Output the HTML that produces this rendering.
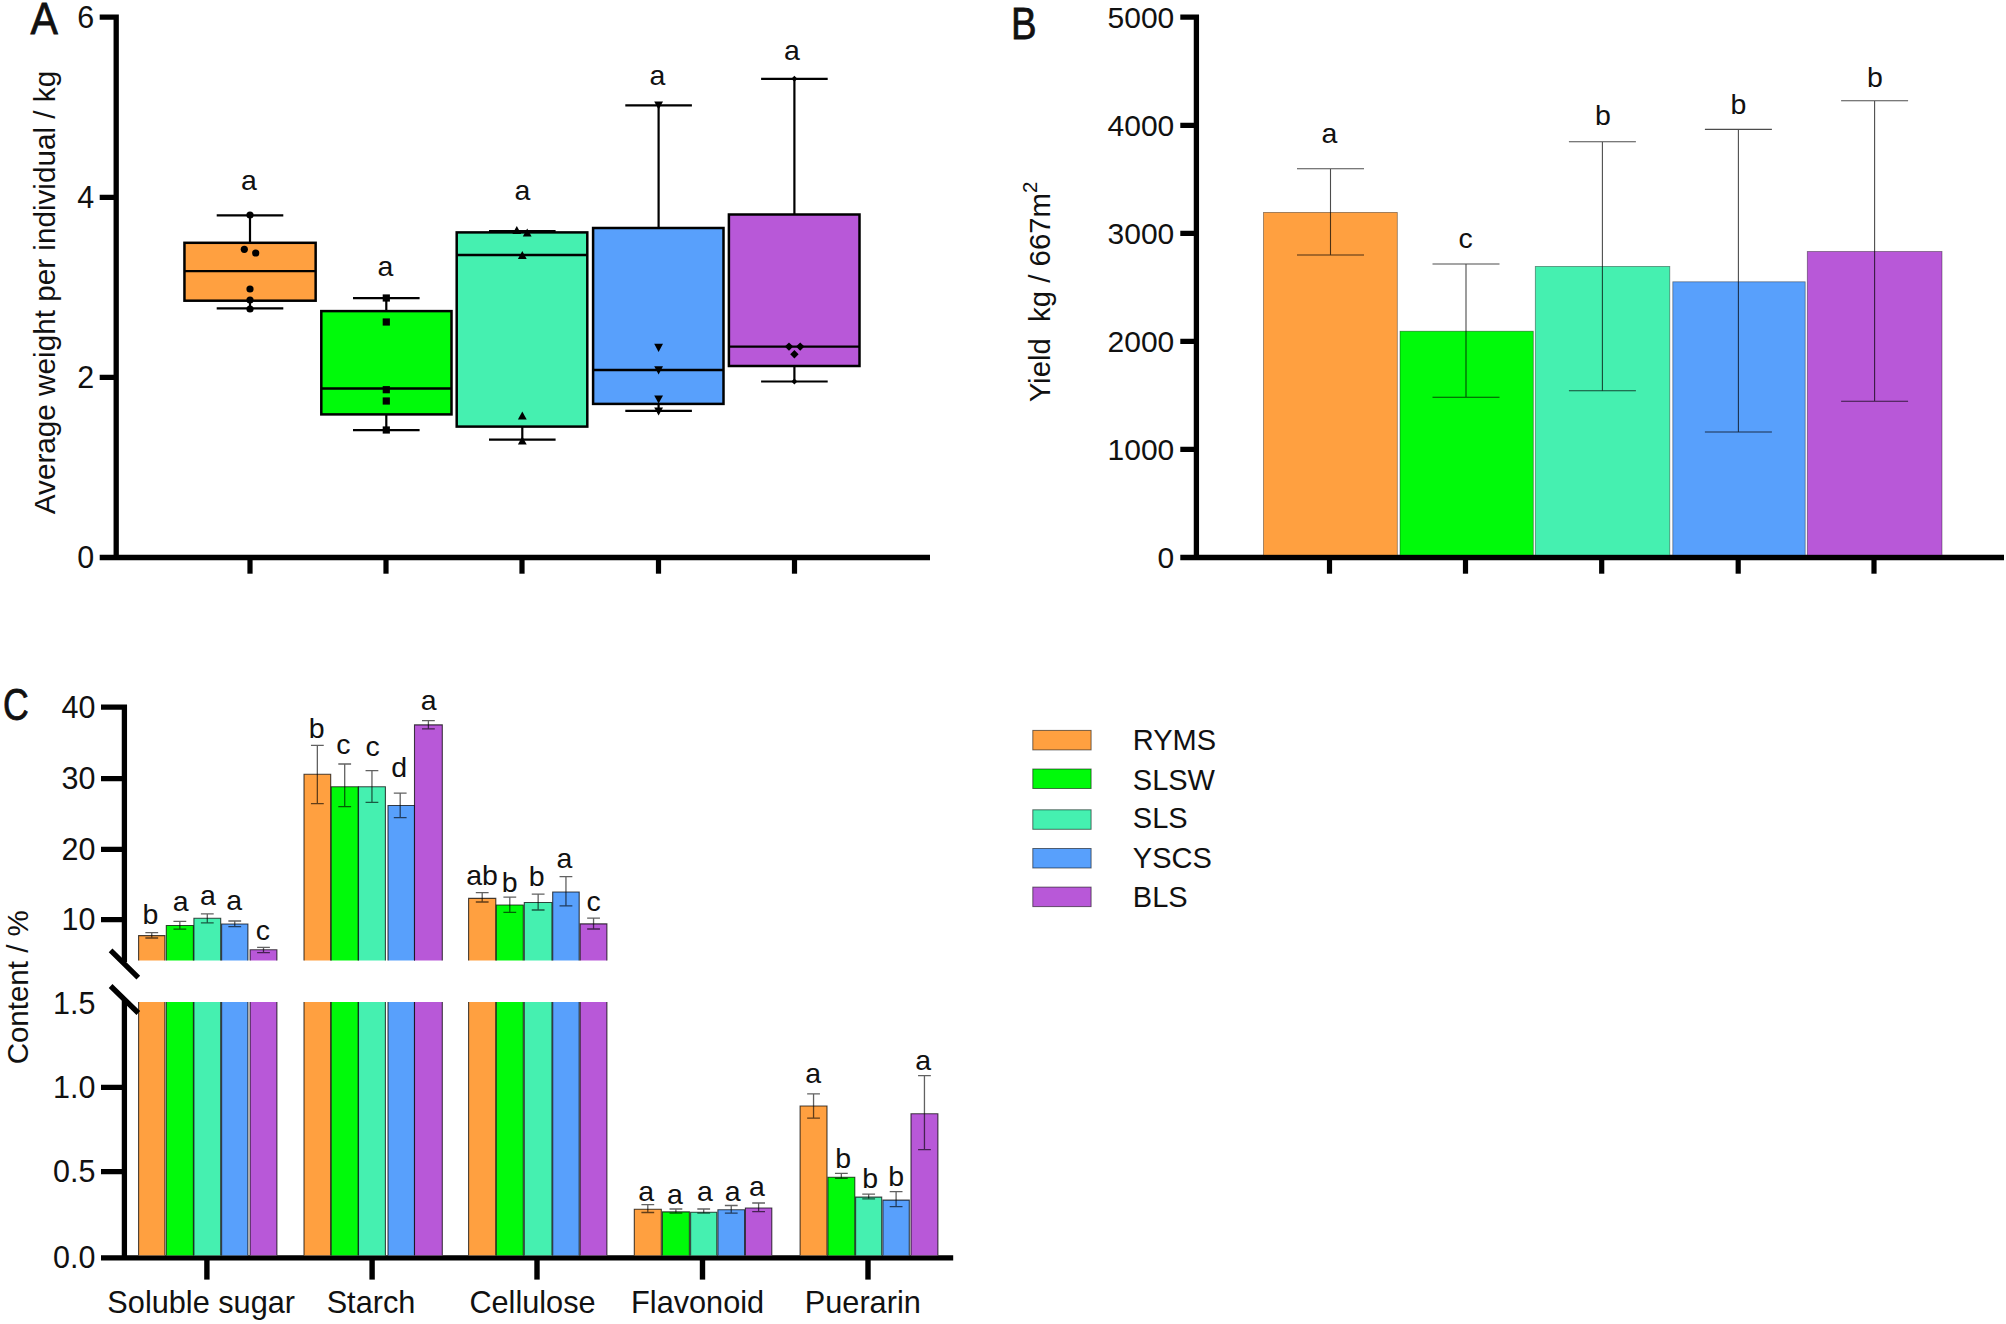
<!DOCTYPE html>
<html><head><meta charset="utf-8"><title>Figure</title>
<style>
html,body{margin:0;padding:0;background:#fff;}
svg{display:block;}
svg text{font-family:"Liberation Sans",Arial,sans-serif;fill:#111;}
</style></head><body>
<svg width="2006" height="1324" viewBox="0 0 2006 1324">
<rect width="2006" height="1324" fill="#fff"/>
<g id="panelA">
<text transform="translate(30.6,33.7) scale(1.015,1.10)" font-size="40.5" stroke="#111" stroke-width="0.7">A</text>
<path d="M116.2 14.55 V560.15 M99.7 17.2 H116.2 M99.7 197.3 H116 M99.7 377.4 H116 M99.7 557.5 H930" stroke="#000" stroke-width="5.3" fill="none"/>
<path d="M250 557 V573.7" stroke="#000" stroke-width="5.2"/>
<path d="M386 557 V573.7" stroke="#000" stroke-width="5.2"/>
<path d="M522 557 V573.7" stroke="#000" stroke-width="5.2"/>
<path d="M658.5 557 V573.7" stroke="#000" stroke-width="5.2"/>
<path d="M794.5 557 V573.7" stroke="#000" stroke-width="5.2"/>
<text x="94.3" y="27.9" font-size="30.5" text-anchor="end" >6</text>
<text x="94.3" y="208.0" font-size="30.5" text-anchor="end" >4</text>
<text x="94.3" y="388.09999999999997" font-size="30.5" text-anchor="end" >2</text>
<text x="94.3" y="568.2" font-size="30.5" text-anchor="end" >0</text>
<text transform="translate(54.5,292.5) rotate(-90)" font-size="29.7" text-anchor="middle">Average weight per individual / kg</text>
<path d="M250 215.4 V308.3 M216.7 215.4 H283.3 M216.7 308.3 H283.3" stroke="#000" stroke-width="2.2" fill="none"/>
<rect x="184.45" y="242.8" width="131.2" height="57.89999999999998" fill="#FFA040" stroke="#000" stroke-width="2.5"/>
<path d="M184.45 271.2 H315.65" stroke="#000" stroke-width="2.3"/>
<path d="M386.3 298.1 V430.1 M353.0 298.1 H419.6 M353.0 430.1 H419.6" stroke="#000" stroke-width="2.2" fill="none"/>
<rect x="321.3" y="311.1" width="130.2" height="103.29999999999995" fill="#00FA0A" stroke="#000" stroke-width="2.5"/>
<path d="M321.3 388.5 H451.5" stroke="#000" stroke-width="2.3"/>
<path d="M522.3 231 V439.6 M488.99999999999994 231 H555.5999999999999 M488.99999999999994 439.6 H555.5999999999999" stroke="#000" stroke-width="2.2" fill="none"/>
<rect x="456.7" y="232.4" width="130.59999999999997" height="194.20000000000002" fill="#45F0B0" stroke="#000" stroke-width="2.5"/>
<path d="M456.7 255 H587.3" stroke="#000" stroke-width="2.3"/>
<path d="M658.6 105.4 V410.9 M625.3000000000001 105.4 H691.9 M625.3000000000001 410.9 H691.9" stroke="#000" stroke-width="2.2" fill="none"/>
<rect x="593.1" y="228" width="130.39999999999998" height="175.89999999999998" fill="#58A0FC" stroke="#000" stroke-width="2.5"/>
<path d="M593.1 370 H723.5" stroke="#000" stroke-width="2.3"/>
<path d="M794.4 78.8 V381.5 M761.1 78.8 H827.6999999999999 M761.1 381.5 H827.6999999999999" stroke="#000" stroke-width="2.2" fill="none"/>
<rect x="728.9" y="214.5" width="130.60000000000002" height="151.5" fill="#B858D8" stroke="#000" stroke-width="2.5"/>
<path d="M728.9 346.6 H859.5" stroke="#000" stroke-width="2.3"/>
<circle cx="244.3" cy="249.3" r="3.6"/>
<circle cx="255.7" cy="253" r="3.6"/>
<circle cx="250" cy="289" r="3.6"/>
<circle cx="250" cy="300" r="3.6"/>
<circle cx="250" cy="215" r="3.6"/>
<circle cx="250" cy="309" r="3.6"/>
<rect x="382.7" y="318.4" width="7.2" height="7.2"/>
<rect x="382.7" y="386.09999999999997" width="7.2" height="7.2"/>
<rect x="382.7" y="397.4" width="7.2" height="7.2"/>
<rect x="382.7" y="426.4" width="7.2" height="7.2"/>
<rect x="382.7" y="294.4" width="7.2" height="7.2"/>
<path d="M512.4 234.1 H521.1999999999999 L516.8 225.9 Z"/>
<path d="M522.8000000000001 236.6 H531.6 L527.2 228.4 Z"/>
<path d="M517.9 259.1 H526.6999999999999 L522.3 250.9 Z"/>
<path d="M517.9 419.6 H526.6999999999999 L522.3 411.4 Z"/>
<path d="M517.9 444.6 H526.6999999999999 L522.3 436.4 Z"/>
<path d="M654.2 343.79999999999995 H663.0 L658.6 352.0 Z"/>
<path d="M654.2 366.2 H663.0 L658.6 374.40000000000003 Z"/>
<path d="M654.2 395.4 H663.0 L658.6 403.6 Z"/>
<path d="M654.2 407.4 H663.0 L658.6 415.6 Z"/>
<path d="M654.2 101.4 H663.0 L658.6 109.6 Z"/>
<path d="M784.8 346.6 L789 342.40000000000003 L793.2 346.6 L789 350.8 Z"/>
<path d="M796.0 346.6 L800.2 342.40000000000003 L804.4000000000001 346.6 L800.2 350.8 Z"/>
<path d="M790.1999999999999 354.3 L794.4 350.1 L798.6 354.3 L794.4 358.5 Z"/>
<path d="M791.4 381.5 L794.4 378.5 L797.4 381.5 L794.4 384.5 Z"/>
<path d="M791.4 78.8 L794.4 75.8 L797.4 78.8 L794.4 81.8 Z"/>
<text x="249" y="189.5" font-size="28.5" text-anchor="middle" >a</text>
<text x="385.5" y="276" font-size="28.5" text-anchor="middle" >a</text>
<text x="522.5" y="200" font-size="28.5" text-anchor="middle" >a</text>
<text x="657.5" y="85" font-size="28.5" text-anchor="middle" >a</text>
<text x="792" y="59.5" font-size="28.5" text-anchor="middle" >a</text>
</g>
<g id="panelB">
<text transform="translate(1011,38.8) scale(0.948,1.107)" font-size="40.5" stroke="#111" stroke-width="0.7">B</text>
<path d="M1196.4 14.55 V560.15 M1180.3 17.2 H1196.4 M1180.3 125.3 H1196 M1180.3 233.3 H1196 M1180.3 341.4 H1196 M1180.3 449.4 H1196 M1180.3 557.5 H2004" stroke="#000" stroke-width="5.3" fill="none"/>
<path d="M1329.5 557 V573.7" stroke="#000" stroke-width="5.2"/>
<path d="M1465.5 557 V573.7" stroke="#000" stroke-width="5.2"/>
<path d="M1601.7 557 V573.7" stroke="#000" stroke-width="5.2"/>
<path d="M1738.2 557 V573.7" stroke="#000" stroke-width="5.2"/>
<path d="M1874 557 V573.7" stroke="#000" stroke-width="5.2"/>
<text x="1174.3" y="27.9" font-size="30" text-anchor="end" >5000</text>
<text x="1174.3" y="136.0" font-size="30" text-anchor="end" >4000</text>
<text x="1174.3" y="244.0" font-size="30" text-anchor="end" >3000</text>
<text x="1174.3" y="352.09999999999997" font-size="30" text-anchor="end" >2000</text>
<text x="1174.3" y="460.09999999999997" font-size="30" text-anchor="end" >1000</text>
<text x="1174.3" y="568.2" font-size="30" text-anchor="end" >0</text>
<text transform="translate(1050.4,292) rotate(-90)" font-size="29.35" text-anchor="middle" xml:space="preserve" style="white-space:pre">Yield  kg / 667m<tspan font-size="20.5" dy="-13.6">2</tspan></text>
<rect x="1263.5" y="212.4" width="133.79999999999995" height="342.6" fill="#FFA040" stroke="#000" stroke-opacity="0.45" stroke-width="0.8"/>
<path d="M1330.5 168.7 V255 M1297.0 168.7 H1364.0 M1297.0 255 H1364.0" stroke="#000" stroke-opacity="0.7" stroke-width="1.1" fill="none"/>
<rect x="1400" y="331.2" width="133.29999999999995" height="223.8" fill="#00FA0A" stroke="#000" stroke-opacity="0.45" stroke-width="0.8"/>
<path d="M1466 264 V397.2 M1432.5 264 H1499.5 M1432.5 397.2 H1499.5" stroke="#000" stroke-opacity="0.7" stroke-width="1.1" fill="none"/>
<rect x="1535.3" y="266.4" width="134.5" height="288.6" fill="#45F0B0" stroke="#000" stroke-opacity="0.45" stroke-width="0.8"/>
<path d="M1602.4 141.8 V390.8 M1568.9 141.8 H1635.9 M1568.9 390.8 H1635.9" stroke="#000" stroke-opacity="0.7" stroke-width="1.1" fill="none"/>
<rect x="1672.8" y="281.8" width="132.4000000000001" height="273.2" fill="#58A0FC" stroke="#000" stroke-opacity="0.45" stroke-width="0.8"/>
<path d="M1738.4 129.4 V432 M1704.9 129.4 H1771.9 M1704.9 432 H1771.9" stroke="#000" stroke-opacity="0.7" stroke-width="1.1" fill="none"/>
<rect x="1807.3" y="251.5" width="134.70000000000005" height="303.5" fill="#B858D8" stroke="#000" stroke-opacity="0.45" stroke-width="0.8"/>
<path d="M1874.6 100.7 V401.2 M1841.1 100.7 H1908.1 M1841.1 401.2 H1908.1" stroke="#000" stroke-opacity="0.7" stroke-width="1.1" fill="none"/>
<text x="1329.5" y="143.3" font-size="28.5" text-anchor="middle" >a</text>
<text x="1465.5" y="248" font-size="28.5" text-anchor="middle" >c</text>
<text x="1603" y="124.9" font-size="28.5" text-anchor="middle" >b</text>
<text x="1738.5" y="114.3" font-size="28.5" text-anchor="middle" >b</text>
<text x="1875" y="86.7" font-size="28.5" text-anchor="middle" >b</text>
</g>
<g id="panelC">
<text transform="translate(3,720) scale(0.8,1.016)" font-size="44.5" stroke="#111" stroke-width="0.8">C</text>
<path d="M124.4 704.45 V962 M124.4 1000.5 V1260.45 M101 707.1 H124.4 M101 778.7 H124 M101 849.3 H124 M101 919.7 H124 M101 1087.3 H124 M101 1171.6 H124 M101 1257.8 H953.2" stroke="#000" stroke-width="5.3" fill="none"/>
<path d="M206.9 1257 V1279.6" stroke="#000" stroke-width="5.4"/>
<path d="M372.1 1257 V1279.6" stroke="#000" stroke-width="5.4"/>
<path d="M537 1257 V1279.6" stroke="#000" stroke-width="5.4"/>
<path d="M702.5 1257 V1279.6" stroke="#000" stroke-width="5.4"/>
<path d="M868 1257 V1279.6" stroke="#000" stroke-width="5.4"/>
<text x="95.5" y="717.8000000000001" font-size="30.5" text-anchor="end" >40</text>
<text x="95.5" y="789.4000000000001" font-size="30.5" text-anchor="end" >30</text>
<text x="95.5" y="860.0" font-size="30.5" text-anchor="end" >20</text>
<text x="95.5" y="930.4000000000001" font-size="30.5" text-anchor="end" >10</text>
<text x="95.5" y="1013.7" font-size="30.5" text-anchor="end" >1.5</text>
<text x="95.5" y="1098.0" font-size="30.5" text-anchor="end" >1.0</text>
<text x="95.5" y="1182.3" font-size="30.5" text-anchor="end" >0.5</text>
<text x="95.5" y="1268.0" font-size="30.5" text-anchor="end" >0.0</text>
<text transform="translate(28,987.3) rotate(-90)" font-size="29.5" text-anchor="middle">Content / %</text>
<text x="201.2" y="1312.5" font-size="30.7" text-anchor="middle" >Soluble sugar</text>
<text x="371" y="1312.5" font-size="30.7" text-anchor="middle" >Starch</text>
<text x="532.5" y="1312.5" font-size="30.7" text-anchor="middle" >Cellulose</text>
<text x="697.6" y="1312.5" font-size="30.7" text-anchor="middle" >Flavonoid</text>
<text x="862.8" y="1312.5" font-size="30.7" text-anchor="middle" >Puerarin</text>
<rect x="138.6" y="935.6" width="26.30000000000001" height="24.899999999999977" fill="#FFA040"/>
<path d="M138.6 960.5 V935.6 H164.9 V960.5" fill="none" stroke="#000" stroke-opacity="0.72" stroke-width="1.1"/>
<rect x="138.6" y="1002" width="26.30000000000001" height="253.29999999999995" fill="#FFA040"/>
<path d="M138.6 1002 V1255.3 M164.9 1002 V1255.3" fill="none" stroke="#000" stroke-opacity="0.72" stroke-width="1.1"/>
<path d="M151.75 932.6 V938 M145.35 932.6 H158.15 M145.35 938 H158.15" stroke="#000" stroke-opacity="0.62" stroke-width="1.3" fill="none"/>
<rect x="166.3" y="925.5" width="27.099999999999994" height="35.0" fill="#00FA0A"/>
<path d="M166.3 960.5 V925.5 H193.4 V960.5" fill="none" stroke="#000" stroke-opacity="0.72" stroke-width="1.1"/>
<rect x="166.3" y="1002" width="27.099999999999994" height="253.29999999999995" fill="#00FA0A"/>
<path d="M166.3 1002 V1255.3 M193.4 1002 V1255.3" fill="none" stroke="#000" stroke-opacity="0.72" stroke-width="1.1"/>
<path d="M179.85000000000002 921.3 V929.2 M173.45000000000002 921.3 H186.25000000000003 M173.45000000000002 929.2 H186.25000000000003" stroke="#000" stroke-opacity="0.62" stroke-width="1.3" fill="none"/>
<rect x="193.9" y="918.3" width="26.799999999999983" height="42.200000000000045" fill="#45F0B0"/>
<path d="M193.9 960.5 V918.3 H220.7 V960.5" fill="none" stroke="#000" stroke-opacity="0.72" stroke-width="1.1"/>
<rect x="193.9" y="1002" width="26.799999999999983" height="253.29999999999995" fill="#45F0B0"/>
<path d="M193.9 1002 V1255.3 M220.7 1002 V1255.3" fill="none" stroke="#000" stroke-opacity="0.72" stroke-width="1.1"/>
<path d="M207.3 913.8 V922.8 M200.9 913.8 H213.70000000000002 M200.9 922.8 H213.70000000000002" stroke="#000" stroke-opacity="0.62" stroke-width="1.3" fill="none"/>
<rect x="221.6" y="924" width="26.30000000000001" height="36.5" fill="#58A0FC"/>
<path d="M221.6 960.5 V924 H247.9 V960.5" fill="none" stroke="#000" stroke-opacity="0.72" stroke-width="1.1"/>
<rect x="221.6" y="1002" width="26.30000000000001" height="253.29999999999995" fill="#58A0FC"/>
<path d="M221.6 1002 V1255.3 M247.9 1002 V1255.3" fill="none" stroke="#000" stroke-opacity="0.72" stroke-width="1.1"/>
<path d="M234.75 921 V926.7 M228.35 921 H241.15 M228.35 926.7 H241.15" stroke="#000" stroke-opacity="0.62" stroke-width="1.3" fill="none"/>
<rect x="250.1" y="949.8" width="26.799999999999983" height="10.700000000000045" fill="#B858D8"/>
<path d="M250.1 960.5 V949.8 H276.9 V960.5" fill="none" stroke="#000" stroke-opacity="0.72" stroke-width="1.1"/>
<rect x="250.1" y="1002" width="26.799999999999983" height="253.29999999999995" fill="#B858D8"/>
<path d="M250.1 1002 V1255.3 M276.9 1002 V1255.3" fill="none" stroke="#000" stroke-opacity="0.72" stroke-width="1.1"/>
<path d="M263.5 947.4 V952.7 M257.1 947.4 H269.9 M257.1 952.7 H269.9" stroke="#000" stroke-opacity="0.62" stroke-width="1.3" fill="none"/>
<rect x="304" y="774.3" width="26.69999999999999" height="186.20000000000005" fill="#FFA040"/>
<path d="M304 960.5 V774.3 H330.7 V960.5" fill="none" stroke="#000" stroke-opacity="0.72" stroke-width="1.1"/>
<rect x="304" y="1002" width="26.69999999999999" height="253.29999999999995" fill="#FFA040"/>
<path d="M304 1002 V1255.3 M330.7 1002 V1255.3" fill="none" stroke="#000" stroke-opacity="0.72" stroke-width="1.1"/>
<path d="M317.35 745.3 V803.7 M310.95000000000005 745.3 H323.75 M310.95000000000005 803.7 H323.75" stroke="#000" stroke-opacity="0.62" stroke-width="1.3" fill="none"/>
<rect x="331.2" y="786.8" width="27.0" height="173.70000000000005" fill="#00FA0A"/>
<path d="M331.2 960.5 V786.8 H358.2 V960.5" fill="none" stroke="#000" stroke-opacity="0.72" stroke-width="1.1"/>
<rect x="331.2" y="1002" width="27.0" height="253.29999999999995" fill="#00FA0A"/>
<path d="M331.2 1002 V1255.3 M358.2 1002 V1255.3" fill="none" stroke="#000" stroke-opacity="0.72" stroke-width="1.1"/>
<path d="M344.7 764 V806.6 M338.3 764 H351.09999999999997 M338.3 806.6 H351.09999999999997" stroke="#000" stroke-opacity="0.62" stroke-width="1.3" fill="none"/>
<rect x="358.5" y="786.8" width="26.899999999999977" height="173.70000000000005" fill="#45F0B0"/>
<path d="M358.5 960.5 V786.8 H385.4 V960.5" fill="none" stroke="#000" stroke-opacity="0.72" stroke-width="1.1"/>
<rect x="358.5" y="1002" width="26.899999999999977" height="253.29999999999995" fill="#45F0B0"/>
<path d="M358.5 1002 V1255.3 M385.4 1002 V1255.3" fill="none" stroke="#000" stroke-opacity="0.72" stroke-width="1.1"/>
<path d="M371.95 770.7 V802.4 M365.55 770.7 H378.34999999999997 M365.55 802.4 H378.34999999999997" stroke="#000" stroke-opacity="0.62" stroke-width="1.3" fill="none"/>
<rect x="388" y="805.5" width="26.5" height="155.0" fill="#58A0FC"/>
<path d="M388 960.5 V805.5 H414.5 V960.5" fill="none" stroke="#000" stroke-opacity="0.72" stroke-width="1.1"/>
<rect x="388" y="1002" width="26.5" height="253.29999999999995" fill="#58A0FC"/>
<path d="M388 1002 V1255.3 M414.5 1002 V1255.3" fill="none" stroke="#000" stroke-opacity="0.72" stroke-width="1.1"/>
<path d="M400.2 793.1 V817.6 M393.8 793.1 H406.59999999999997 M393.8 817.6 H406.59999999999997" stroke="#000" stroke-opacity="0.62" stroke-width="1.3" fill="none"/>
<rect x="414.5" y="724.9" width="27.80000000000001" height="235.60000000000002" fill="#B858D8"/>
<path d="M414.5 960.5 V724.9 H442.3 V960.5" fill="none" stroke="#000" stroke-opacity="0.72" stroke-width="1.1"/>
<rect x="414.5" y="1002" width="27.80000000000001" height="253.29999999999995" fill="#B858D8"/>
<path d="M414.5 1002 V1255.3 M442.3 1002 V1255.3" fill="none" stroke="#000" stroke-opacity="0.72" stroke-width="1.1"/>
<path d="M428.4 720.7 V728.8 M422.0 720.7 H434.79999999999995 M422.0 728.8 H434.79999999999995" stroke="#000" stroke-opacity="0.62" stroke-width="1.3" fill="none"/>
<rect x="468.6" y="898.4" width="27.19999999999999" height="62.10000000000002" fill="#FFA040"/>
<path d="M468.6 960.5 V898.4 H495.8 V960.5" fill="none" stroke="#000" stroke-opacity="0.72" stroke-width="1.1"/>
<rect x="468.6" y="1002" width="27.19999999999999" height="253.29999999999995" fill="#FFA040"/>
<path d="M468.6 1002 V1255.3 M495.8 1002 V1255.3" fill="none" stroke="#000" stroke-opacity="0.72" stroke-width="1.1"/>
<path d="M482.20000000000005 892.7 V902 M475.80000000000007 892.7 H488.6 M475.80000000000007 902 H488.6" stroke="#000" stroke-opacity="0.62" stroke-width="1.3" fill="none"/>
<rect x="496.3" y="905" width="26.999999999999943" height="55.5" fill="#00FA0A"/>
<path d="M496.3 960.5 V905 H523.3 V960.5" fill="none" stroke="#000" stroke-opacity="0.72" stroke-width="1.1"/>
<rect x="496.3" y="1002" width="26.999999999999943" height="253.29999999999995" fill="#00FA0A"/>
<path d="M496.3 1002 V1255.3 M523.3 1002 V1255.3" fill="none" stroke="#000" stroke-opacity="0.72" stroke-width="1.1"/>
<path d="M509.79999999999995 897.1 V912.3 M503.4 897.1 H516.1999999999999 M503.4 912.3 H516.1999999999999" stroke="#000" stroke-opacity="0.62" stroke-width="1.3" fill="none"/>
<rect x="524.3" y="902.5" width="27.700000000000045" height="58.0" fill="#45F0B0"/>
<path d="M524.3 960.5 V902.5 H552 V960.5" fill="none" stroke="#000" stroke-opacity="0.72" stroke-width="1.1"/>
<rect x="524.3" y="1002" width="27.700000000000045" height="253.29999999999995" fill="#45F0B0"/>
<path d="M524.3 1002 V1255.3 M552 1002 V1255.3" fill="none" stroke="#000" stroke-opacity="0.72" stroke-width="1.1"/>
<path d="M538.15 894.2 V910 M531.75 894.2 H544.55 M531.75 910 H544.55" stroke="#000" stroke-opacity="0.62" stroke-width="1.3" fill="none"/>
<rect x="552.7" y="892" width="26.5" height="68.5" fill="#58A0FC"/>
<path d="M552.7 960.5 V892 H579.2 V960.5" fill="none" stroke="#000" stroke-opacity="0.72" stroke-width="1.1"/>
<rect x="552.7" y="1002" width="26.5" height="253.29999999999995" fill="#58A0FC"/>
<path d="M552.7 1002 V1255.3 M579.2 1002 V1255.3" fill="none" stroke="#000" stroke-opacity="0.72" stroke-width="1.1"/>
<path d="M565.95 876.6 V905.8 M559.5500000000001 876.6 H572.35 M559.5500000000001 905.8 H572.35" stroke="#000" stroke-opacity="0.62" stroke-width="1.3" fill="none"/>
<rect x="580.2" y="923.9" width="26.699999999999932" height="36.60000000000002" fill="#B858D8"/>
<path d="M580.2 960.5 V923.9 H606.9 V960.5" fill="none" stroke="#000" stroke-opacity="0.72" stroke-width="1.1"/>
<rect x="580.2" y="1002" width="26.699999999999932" height="253.29999999999995" fill="#B858D8"/>
<path d="M580.2 1002 V1255.3 M606.9 1002 V1255.3" fill="none" stroke="#000" stroke-opacity="0.72" stroke-width="1.1"/>
<path d="M593.55 918.2 V929 M587.15 918.2 H599.9499999999999 M587.15 929 H599.9499999999999" stroke="#000" stroke-opacity="0.62" stroke-width="1.3" fill="none"/>
<rect x="634.3" y="1209.2" width="27.0" height="46.09999999999991" fill="#FFA040"/>
<path d="M634.3 1255.3 V1209.2 H661.3 V1255.3" fill="none" stroke="#000" stroke-opacity="0.72" stroke-width="1.1"/>
<path d="M647.8 1204.7 V1212.5 M641.4 1204.7 H654.1999999999999 M641.4 1212.5 H654.1999999999999" stroke="#000" stroke-opacity="0.62" stroke-width="1.3" fill="none"/>
<rect x="662.4" y="1211.9" width="27.0" height="43.399999999999864" fill="#00FA0A"/>
<path d="M662.4 1255.3 V1211.9 H689.4 V1255.3" fill="none" stroke="#000" stroke-opacity="0.72" stroke-width="1.1"/>
<path d="M675.9 1209 V1213.2 M669.5 1209 H682.3 M669.5 1213.2 H682.3" stroke="#000" stroke-opacity="0.62" stroke-width="1.3" fill="none"/>
<rect x="690.6" y="1212.2" width="26.199999999999932" height="43.09999999999991" fill="#45F0B0"/>
<path d="M690.6 1255.3 V1212.2 H716.8 V1255.3" fill="none" stroke="#000" stroke-opacity="0.72" stroke-width="1.1"/>
<path d="M703.7 1209 V1213.2 M697.3000000000001 1209 H710.1 M697.3000000000001 1213.2 H710.1" stroke="#000" stroke-opacity="0.62" stroke-width="1.3" fill="none"/>
<rect x="717.9" y="1209.8" width="26.700000000000045" height="45.5" fill="#58A0FC"/>
<path d="M717.9 1255.3 V1209.8 H744.6 V1255.3" fill="none" stroke="#000" stroke-opacity="0.72" stroke-width="1.1"/>
<path d="M731.25 1205.5 V1213.2 M724.85 1205.5 H737.65 M724.85 1213.2 H737.65" stroke="#000" stroke-opacity="0.62" stroke-width="1.3" fill="none"/>
<rect x="745.4" y="1208" width="26.399999999999977" height="47.299999999999955" fill="#B858D8"/>
<path d="M745.4 1255.3 V1208 H771.8 V1255.3" fill="none" stroke="#000" stroke-opacity="0.72" stroke-width="1.1"/>
<path d="M758.5999999999999 1203 V1211.7 M752.1999999999999 1203 H764.9999999999999 M752.1999999999999 1211.7 H764.9999999999999" stroke="#000" stroke-opacity="0.62" stroke-width="1.3" fill="none"/>
<rect x="800.1" y="1106" width="26.899999999999977" height="149.29999999999995" fill="#FFA040"/>
<path d="M800.1 1255.3 V1106 H827 V1255.3" fill="none" stroke="#000" stroke-opacity="0.72" stroke-width="1.1"/>
<path d="M813.55 1093.8 V1118.1 M807.15 1093.8 H819.9499999999999 M807.15 1118.1 H819.9499999999999" stroke="#000" stroke-opacity="0.62" stroke-width="1.3" fill="none"/>
<rect x="827.9" y="1177.2" width="26.899999999999977" height="78.09999999999991" fill="#00FA0A"/>
<path d="M827.9 1255.3 V1177.2 H854.8 V1255.3" fill="none" stroke="#000" stroke-opacity="0.72" stroke-width="1.1"/>
<path d="M841.3499999999999 1173.4 V1178.4 M834.9499999999999 1173.4 H847.7499999999999 M834.9499999999999 1178.4 H847.7499999999999" stroke="#000" stroke-opacity="0.62" stroke-width="1.3" fill="none"/>
<rect x="855.6" y="1197.1" width="26.100000000000023" height="58.200000000000045" fill="#45F0B0"/>
<path d="M855.6 1255.3 V1197.1 H881.7 V1255.3" fill="none" stroke="#000" stroke-opacity="0.72" stroke-width="1.1"/>
<path d="M868.6500000000001 1194.2 V1198.9 M862.2500000000001 1194.2 H875.0500000000001 M862.2500000000001 1198.9 H875.0500000000001" stroke="#000" stroke-opacity="0.62" stroke-width="1.3" fill="none"/>
<rect x="882.9" y="1200.1" width="26.399999999999977" height="55.200000000000045" fill="#58A0FC"/>
<path d="M882.9 1255.3 V1200.1 H909.3 V1255.3" fill="none" stroke="#000" stroke-opacity="0.72" stroke-width="1.1"/>
<path d="M896.0999999999999 1191.6 V1206.7 M889.6999999999999 1191.6 H902.4999999999999 M889.6999999999999 1206.7 H902.4999999999999" stroke="#000" stroke-opacity="0.62" stroke-width="1.3" fill="none"/>
<rect x="911" y="1113.8" width="26.899999999999977" height="141.5" fill="#B858D8"/>
<path d="M911 1255.3 V1113.8 H937.9 V1255.3" fill="none" stroke="#000" stroke-opacity="0.72" stroke-width="1.1"/>
<path d="M924.45 1075.6 V1149.7 M918.0500000000001 1075.6 H930.85 M918.0500000000001 1149.7 H930.85" stroke="#000" stroke-opacity="0.62" stroke-width="1.3" fill="none"/>
<path d="M110.6 950.3 L138.3 977.7 M110.6 986 L138.3 1013" stroke="#000" stroke-width="5.3" fill="none"/>
<text x="150.4" y="924.3" font-size="28.5" text-anchor="middle" >b</text>
<text x="180.8" y="911.3" font-size="28.5" text-anchor="middle" >a</text>
<text x="208" y="904.5" font-size="28.5" text-anchor="middle" >a</text>
<text x="234.3" y="909.5" font-size="28.5" text-anchor="middle" >a</text>
<text x="262.8" y="940.3" font-size="28.5" text-anchor="middle" >c</text>
<text x="316.7" y="738.1" font-size="28.5" text-anchor="middle" >b</text>
<text x="343.3" y="754" font-size="28.5" text-anchor="middle" >c</text>
<text x="372.7" y="756.4" font-size="28.5" text-anchor="middle" >c</text>
<text x="399.2" y="777.2" font-size="28.5" text-anchor="middle" >d</text>
<text x="428.8" y="709.6" font-size="28.5" text-anchor="middle" >a</text>
<text x="482.1" y="884.7" font-size="28.5" text-anchor="middle" >ab</text>
<text x="509.6" y="891.5" font-size="28.5" text-anchor="middle" >b</text>
<text x="536.7" y="885.6" font-size="28.5" text-anchor="middle" >b</text>
<text x="564.5" y="867.5" font-size="28.5" text-anchor="middle" >a</text>
<text x="593.7" y="910.7" font-size="28.5" text-anchor="middle" >c</text>
<text x="646.2" y="1200.7" font-size="28.5" text-anchor="middle" >a</text>
<text x="675" y="1204.4" font-size="28.5" text-anchor="middle" >a</text>
<text x="704.9" y="1201.4" font-size="28.5" text-anchor="middle" >a</text>
<text x="732.7" y="1201.4" font-size="28.5" text-anchor="middle" >a</text>
<text x="757" y="1196.3" font-size="28.5" text-anchor="middle" >a</text>
<text x="813.3" y="1083.4" font-size="28.5" text-anchor="middle" >a</text>
<text x="843.3" y="1168.1" font-size="28.5" text-anchor="middle" >b</text>
<text x="870.2" y="1187.6" font-size="28.5" text-anchor="middle" >b</text>
<text x="896.3" y="1185.5" font-size="28.5" text-anchor="middle" >b</text>
<text x="923.2" y="1070.4" font-size="28.5" text-anchor="middle" >a</text>
</g>
<g id="legend">
<rect x="1032.8" y="730.4" width="58.3" height="19.5" fill="#FFA040" stroke="#000" stroke-opacity="0.55" stroke-width="1"/>
<text x="1132.8" y="750.4" font-size="29" text-anchor="start" >RYMS</text>
<rect x="1032.8" y="769.0" width="58.3" height="19.5" fill="#00FA0A" stroke="#000" stroke-opacity="0.55" stroke-width="1"/>
<text x="1132.8" y="789.5" font-size="29" text-anchor="start" >SLSW</text>
<rect x="1032.8" y="809.8" width="58.3" height="19.5" fill="#45F0B0" stroke="#000" stroke-opacity="0.55" stroke-width="1"/>
<text x="1132.8" y="828.2" font-size="29" text-anchor="start" >SLS</text>
<rect x="1032.8" y="848.5" width="58.3" height="19.5" fill="#58A0FC" stroke="#000" stroke-opacity="0.55" stroke-width="1"/>
<text x="1132.8" y="868" font-size="29" text-anchor="start" >YSCS</text>
<rect x="1032.8" y="887.1" width="58.3" height="19.5" fill="#B858D8" stroke="#000" stroke-opacity="0.55" stroke-width="1"/>
<text x="1132.8" y="907.2" font-size="29" text-anchor="start" >BLS</text>
</g>
</svg>
</body></html>
